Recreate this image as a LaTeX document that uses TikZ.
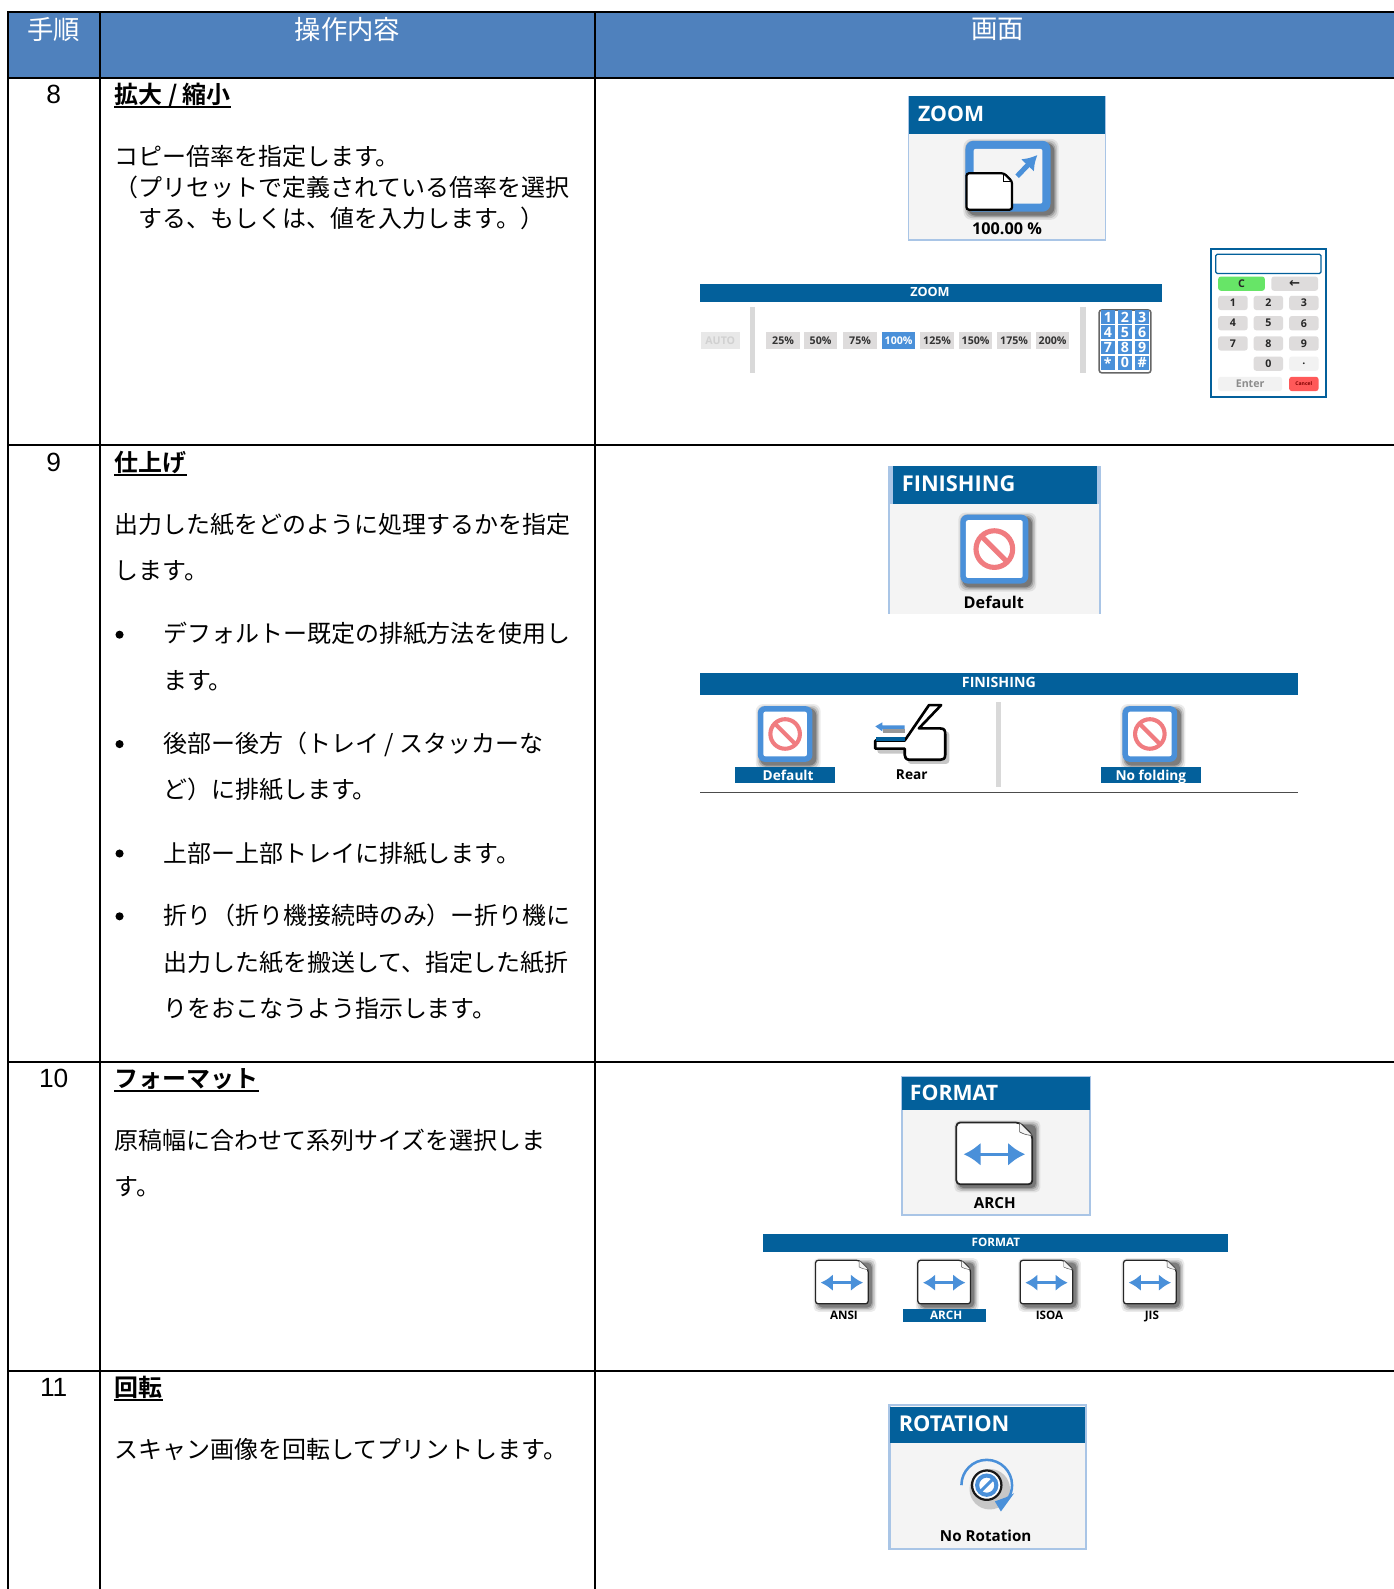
\documentclass[tikz,border=0pt]{standalone}
\usepackage{fontspec}
\setmainfont{Liberation Sans}
\newfontfamily\jp{Noto Sans CJK JP}
\newfontfamily\jpb{Noto Sans CJK JP Bold}
\newfontfamily\ui{Open Sans}[BoldFont={Open Sans Bold}]
\newfontfamily\djv{DejaVu Sans Bold}
\usetikzlibrary{arrows.meta}
\definecolor{hdr}{HTML}{4F81BD}
\definecolor{uib}{HTML}{03609B}
\definecolor{uibg}{HTML}{F4F4F4}
\definecolor{uibd}{HTML}{A9C5E6}
\definecolor{ico}{HTML}{4A90D9}
\definecolor{nored}{HTML}{F07C80}
\definecolor{btn}{HTML}{DEDCDC}
\tikzset{
 grid/.style={line width=1.9pt,black,line cap=rect},
 body/.style={anchor=base west,inner sep=0,font=\fontsize{23.66}{28}\selectfont\jp,text=black},
 head/.style={anchor=base west,inner sep=0,font=\fontsize{23.66}{28}\selectfont\jpb,text=black},
 hcell/.style={anchor=center,inner sep=0,font=\fontsize{26}{30}\selectfont\jp,text=white},
 num/.style={anchor=base,inner sep=0,font=\fontsize{26}{30}\selectfont,text=black},
 bul/.style={circle,fill=black,inner sep=0,minimum size=8pt},
 fixh/.style={text depth=0pt},
 ptitle/.style={anchor=west,inner sep=0,fixh,font=\fontsize{21.5}{26}\selectfont\ui\bfseries,text=white},
 plabel/.style={anchor=center,inner sep=0,fixh,font=\fontsize{16}{20}\selectfont\ui\bfseries,text=black},
 smlabel/.style={plabel,font=\fontsize{13.5}{16}\selectfont\ui\bfseries},
 tinylabel/.style={plabel,font=\fontsize{11.5}{14}\selectfont\ui\bfseries},
 bartitle/.style={anchor=center,inner sep=0,fixh,font=\fontsize{12.5}{15}\selectfont\ui\bfseries,text=white},
 pct/.style={fill=btn,minimum width=33pt,minimum height=17pt,inner sep=0,font=\fontsize{10.5}{12}\selectfont\ui\bfseries,text=black!80},
 kbtn/.style={fill=btn,rounded corners=2.5pt,minimum width=29pt,minimum height=14pt,inner sep=0,fixh,font=\fontsize{10.5}{12}\selectfont\ui\bfseries,text=black!85},
 sep/.style={line width=5pt,draw=black!15},
}
% soft shadow behind a rounded box
\newcommand{\softbox}[5]{%
 \foreach \d/\o in {5/.08,3.5/.12,2/.18,.8/.25}{%
  \fill[black,opacity=\o,rounded corners=#5] (#1-\d+3,#2-\d+3) rectangle (#3+\d+3,#4+\d+3);}}
% blue rounded icon with the red "none" sign
\newcommand{\noicon}[4]{%
 \softbox{#1}{#2}{#3}{#4}{7pt}
 \fill[ico,rounded corners=7pt] (#1,#2) rectangle (#3,#4);
 \fill[white,rounded corners=2pt] (#1+5.5,#2+5.5) rectangle (#3-5.5,#4-5.5);
 \pgfmathsetmacro\cx{(#1+#3)/2}\pgfmathsetmacro\cy{(#2+#4)/2}
 \pgfmathsetmacro\rr{(#3-#1)*.27}
 \draw[nored,line width={(#3-#1)*.075pt}] (\cx,\cy) circle[radius=\rr];
 \draw[nored,line width={(#3-#1)*.075pt}] (\cx-\rr*.7,\cy-\rr*.7) -- (\cx+\rr*.7,\cy+\rr*.7);}
% page icon with fold and double arrow
\newcommand{\docicon}[5]{%
 \softbox{#1}{#2}{#3}{#4}{5pt}
 \draw[black!85,fill=white,line width=#5*.42pt,rounded corners=#5*.9pt,line join=round]
   (#1,#2) -- (#3-#5*3,#2) -- (#3,#2+#5*3) -- (#3,#4) -- (#1,#4) -- cycle;
 \draw[black!70,fill=uibg,line width=#5*.14pt] (#3-#5*3,#2) -- (#3-#5*3,#2+#5*2.2) to[bend right=10] (#3-#5*.6,#2+#5*3) -- (#3,#2+#5*3) -- cycle;
 \pgfmathsetmacro\cy{(#2+#4)/2+#5*.2}
 \draw[ico,line width=#5*.8pt,{Latex[length=#5*4pt,width=#5*5.5pt]}-{Latex[length=#5*4pt,width=#5*5.5pt]}]
   (#1+#5*1.7,\cy) -- (#3-#5*1.7,\cy);}
\begin{document}
\begin{tikzpicture}[x=1pt,y=-1pt]
\useasboundingbox (0,0) rectangle (1376,1568.5);
\fill[white] (0,0) rectangle (1376,1568.5);
% header band and table grid
\fill[hdr] (8,12) rectangle (1376,77);
\draw[grid] (8,12) -- (1376,12);
\draw[grid] (8,77) -- (1376,77);
\draw[grid] (8,439) -- (1376,439);
\draw[grid] (8,1048) -- (1376,1048);
\draw[grid] (8,1353) -- (1376,1353);
\draw[grid] (8,12) -- (8,1568.5);
\draw[grid] (99,12) -- (99,1568.5);
\draw[grid] (587,12) -- (587,1568.5);
\node[hcell] (h1) at (53,29) {手順};
\node[hcell] (h2) at (343,29) {操作内容};
\node[hcell] (h3) at (985,29) {画面};
% step numbers
\node[num] (n8) at (53,102.5) {8};
\node[num] (n9) at (53,465.5) {9};
\node[num] (n10) at (53,1073.5) {10};
\node[num] (n11) at (53,1378.5) {11};
% step 8 text
\node[head] (t8) at (113,102) {拡大 / 縮小};
\draw[line width=2pt] ([yshift=-3.5pt]t8.base west) -- ([yshift=-3.5pt]t8.base east);
\node[body] (a1) at (113,163.5) {コピー倍率を指定します。};
\node[body] (a2) at (113,194) {（プリセットで定義されている倍率を選択};
\node[body] (a3) at (137,225) {する、もしくは、値を入力します。）};
% step 9 text
\node[head] (t9) at (113,465) {仕上げ};
\draw[line width=2pt] ([yshift=-3.5pt]t9.base west) -- ([yshift=-3.5pt]t9.base east);
\node[body] (b1) at (113,526.5) {出力した紙をどのように処理するかを指定};
\node[body] (b2) at (113,572.5) {します。};
\node[bul] (u1) at (118,626.5) {};
\node[body] (b3) at (161,634.5) {デフォルトー既定の排紙方法を使用し};
\node[body] (b4) at (161,680.5) {ます。};
\node[bul] (u2) at (118,734.5) {};
\node[body] (b5) at (161,742.5) {後部ー後方（トレイ / スタッカーな};
\node[body] (b6) at (161,788.5) {ど）に排紙します。};
\node[bul] (u3) at (118,842.5) {};
\node[body] (b7) at (161,851.5) {上部ー上部トレイに排紙します。};
\node[bul] (u4) at (118,904.5) {};
\node[body] (b8) at (161,912.5) {折り（折り機接続時のみ）ー折り機に};
\node[body] (b9) at (161,958.5) {出力した紙を搬送して、指定した紙折};
\node[body] (b10) at (161,1004.5) {りをおこなうよう指示します。};
% step 10 text
\node[head] (t10) at (113,1073) {フォーマット};
\draw[line width=2pt] ([yshift=-3.5pt]t10.base west) -- ([yshift=-3.5pt]t10.base east);
\node[body] (c1) at (113,1134.5) {原稿幅に合わせて系列サイズを選択しま};
\node[body] (c2) at (113,1180.5) {す。};
% step 11 text
\node[head] (t11) at (113,1378) {回転};
\draw[line width=2pt] ([yshift=-3.5pt]t11.base west) -- ([yshift=-3.5pt]t11.base east);
\node[body] (d1) at (113,1439.5) {スキャン画像を回転してプリントします。};

% ---------- ZOOM panel
\fill[uibg] (897,95) rectangle (1091,237);
\draw[uibd,line width=1.2pt] (897,95) rectangle (1091,237);
\fill[uib] (897,95) rectangle (1091,132);
\node[ptitle,font=\fontsize{21}{26}\selectfont\ui\bfseries] (zt) at (906,112.5) {ZOOM};
\softbox{953}{139}{1037}{209}{8pt}
\fill[ico,rounded corners=8pt] (953,139) rectangle (1037,209);
\fill[uibg,rounded corners=2pt] (961,147) rectangle (1029,201);
\draw[ico,line width=5pt,-{Latex[length=14pt,width=18pt]}] (1004,174) -- (1024,153);
\draw[black,fill=white,line width=2.2pt,rounded corners=2.5pt] (954,171) -- (991,171) -- (999,179) -- (999,207) -- (954,207) -- cycle;
\draw[black,line width=1pt] (991,171) -- (991,179) -- (999,179);
\node[plabel] (zl) at (994,226) {100.00 \%};
% ZOOM bar
\fill[uib] (691,280) rectangle (1147,298);
\node[bartitle] (zb) at (918,288.5) {ZOOM};
\node[pct,fill=black!9,text=black!18,minimum width=38pt] (zauto) at (711,336) {AUTO};
\draw[sep] (743,303) -- (743,368);
\draw[sep] (1069,303) -- (1069,368);
\node[pct] (p1) at (773,336) {25\%};
\node[pct] (p2) at (810,336) {50\%};
\node[pct] (p3) at (849,336) {75\%};
\node[pct,fill=ico,text=white] (p4) at (887,336) {100\%};
\node[pct] (p5) at (925,336) {125\%};
\node[pct] (p6) at (963,336) {150\%};
\node[pct] (p7) at (1001,336) {175\%};
\node[pct] (p8) at (1039,336) {200\%};
\draw[black!60,fill=white,line width=1.5pt,rounded corners=2.5pt] (1085,306) rectangle (1136,368);
\foreach \t [count=\i from 0] in {1,2,3,4,5,6,7,8,9,*,0,\#}{
  \pgfmathsetmacro\cc{1093.5+17*mod(\i,3)}
  \pgfmathsetmacro\rw{313+15*floor(\i/3)}
  \fill[ico] (\cc-7,\rw-6.8) rectangle (\cc+7,\rw+6.8);
  \node[inner sep=0,text=white,font=\fontsize{14}{16}\selectfont\ui\bfseries,text depth=0pt] (kp\i) at (\cc,\rw) {\t};
}
% keypad panel
\draw[uib,line width=1.8pt,fill=white] (1195,246) rectangle (1309,392);
\draw[uib,line width=1.2pt,rounded corners=1.5pt] (1200,251) rectangle (1304,270);
\node[kbtn,fill=green!55!white!90!black,minimum width=46pt] (kc) at (1225.5,280) {C};
\node[kbtn,minimum width=46pt,font=\fontsize{13}{14}\selectfont\djv] (kb) at (1278,280) {←};
\foreach \t/\xx/\yy in {1/1217/299,2/1252/299,3/1287/299,4/1217/319,5/1252/319,6/1287/319,7/1217/339,8/1252/339,9/1287/339,0/1252/359}{
  \node[kbtn] (k\t) at (\xx,\yy) {\t};
}
\node[kbtn,fill=black!5] (kdot) at (1287,359) {.};
\node[kbtn,fill=black!5,minimum width=63pt,text=black!45] (ke) at (1234,379) {Enter};
\node[kbtn,fill=red!65!white,minimum width=29pt,text=red!50!black,font=\fontsize{5}{6}\selectfont\ui\bfseries] (kx) at (1287,379) {Cancel};

% ---------- FINISHING panel
\fill[uibg] (878,460) rectangle (1086,606);
\draw[uibd,line width=2pt] (878,460) -- (878,606);
\draw[uibd,line width=2pt] (1086,460) -- (1086,606);
\fill[uib] (878,460) rectangle (1086,497);
\fill[uibd] (877,460) rectangle (881,497);
\fill[uibd] (1083,460) rectangle (1087,497);
\node[ptitle] (ft) at (890,477.5) {FINISHING};
\noicon{948}{508}{1015}{576}
\node[plabel] (fl) at (981,595) {Default};
% FINISHING bar
\fill[uib] (691,664) rectangle (1281,686);
\node[bartitle,font=\fontsize{14}{16}\selectfont\ui\bfseries] (fb) at (986,673.5) {FINISHING};
\noicon{748}{697}{802}{752}
\fill[uib] (726,757) rectangle (824,773);
\node[smlabel,text=white] (fd) at (778,765) {Default};
% rear icon
\fill[black,opacity=.22,rounded corners=3pt] (866,735) -- (896,735) -- (910,722) -- (937,722) -- (937,754) -- (896,754) -- (896,744) -- (866,744) -- cycle;
\draw[black,fill=white,line width=2.6pt,line join=round] (917,696) -- (929,696) -- (907,719) -- (928,719)
   .. controls (933,719) and (933,722) .. (933,725) -- (933,745) .. controls (933,749) and (931,750) .. (928,750)
   -- (898,750) .. controls (894,750) and (893,747) .. (893,745) -- (893,739) -- (864,739) -- (864,731) -- (893,731) -- cycle;
\fill[uib] (865,727) rectangle (893,731);
\fill[ico] (864,717) -- (871,713) -- (871,716) -- (893,716) -- (893,720) -- (871,720) -- (871,722) -- cycle;
\fill[black!40] (872,720) rectangle (893,724);
\node[smlabel] (fr) at (900,765) {Rear};
\draw[sep] (986,693) -- (986,777);
\noicon{1108}{697}{1162}{752}
\fill[uib] (1087,757) rectangle (1185,773);
\node[smlabel,text=white] (fn) at (1136,765) {No folding};
\draw[black!70,line width=1.5pt] (691,782.5) -- (1281,782.5);

% ---------- FORMAT panel
\fill[uibg] (890,1063) rectangle (1076,1199);
\draw[uibd,line width=2pt] (890,1063) rectangle (1076,1199);
\fill[uib] (890,1063) rectangle (1076,1096);
\node[ptitle,font=\fontsize{21}{26}\selectfont\ui\bfseries] (mt) at (898,1078.5) {FORMAT};
\docicon{944}{1108}{1019}{1169}{4.2}
\node[plabel,font=\fontsize{15}{18}\selectfont\ui\bfseries] (ml) at (982,1187) {ARCH};
% FORMAT bar
\fill[uib] (753,1218) rectangle (1212,1236);
\node[bartitle,font=\fontsize{11.5}{14}\selectfont\ui\bfseries] (mb) at (983,1226.5) {FORMAT};
\docicon{805}{1244}{857}{1287}{3}
\docicon{906}{1244}{958}{1287}{3}
\docicon{1007}{1244}{1059}{1287}{3}
\docicon{1109}{1244}{1161}{1287}{3}
\fill[uib] (891.5,1292) rectangle (973,1305);
\node[tinylabel] (m1) at (833,1298) {ANSI};
\node[tinylabel,text=white] (m2) at (934,1298) {ARCH};
\node[tinylabel] (m3) at (1036,1298) {ISOA};
\node[tinylabel] (m4) at (1137,1298) {JIS};

% ---------- ROTATION panel
\fill[uibg] (878,1387) rectangle (1072,1529);
\draw[uibd,line width=2.5pt] (878,1387) rectangle (1072,1529);
\fill[uib] (879,1389) rectangle (1071,1424);
\node[ptitle] (rt) at (887,1405.5) {ROTATION};
\fill[black,opacity=.18] (977,1470) circle[radius=20];
\draw[ico,line width=2.5pt] (949,1466) arc[start angle=180,end angle=395,radius=25];
\fill[ico] (993,1478) -- (1001,1474) -- (988,1492) -- (982,1482) -- cycle;
\draw[black!90,fill=white,line width=2.2pt] (974,1466) circle[radius=14.5];
\draw[ico,line width=4pt] (974,1466) circle[radius=9.5];
\draw[ico,line width=3pt] (968,1472) -- (980,1460);
\node[plabel,font=\fontsize{15}{18}\selectfont\ui\bfseries] (rl) at (973,1516) {No Rotation};
\end{tikzpicture}
\end{document}
